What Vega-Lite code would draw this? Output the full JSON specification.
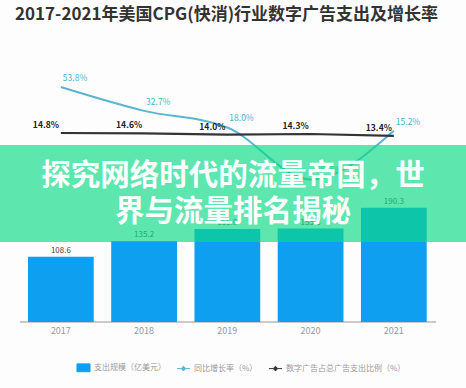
{
  "$schema": "https://vega.github.io/schema/vega-lite/v6.json",
  "width": 466,
  "height": 282,
  "autosize": {"type": "none"},
  "padding": {"left": 0, "right": 0, "top": 40, "bottom": 66},
  "background": "#fdfdfe",
  "config": {"view": {"stroke": null}, "font": "Noto Sans CJK SC"},
  "title": {
    "text": "2017-2021年美国CPG(快消)行业数字广告支出及增长率",
    "anchor": "start",
    "frame": "group",
    "dx": 15,
    "offset": 16,
    "fontSize": 17,
    "fontWeight": "bold",
    "color": "#333333",
    "font": "Noto Sans CJK SC"
  },
  "datasets": {
    "main": [
      {"year": "2017", "spend": 108.6, "growth": 53.8, "share": 14.8, "gLabel": "53.8%", "sLabel": "14.8%"},
      {"year": "2018", "spend": 135.2, "growth": 32.7, "share": 14.6, "gLabel": "32.7%", "sLabel": "14.6%"},
      {"year": "2019", "spend": 155.0, "growth": 18.0, "share": 14.0, "gLabel": "18.0%", "sLabel": "14.0%"},
      {"year": "2020", "spend": 155.8, "growth": -28.0, "share": 14.3, "gLabel": "-28.0%", "sLabel": "14.3%"},
      {"year": "2021", "spend": 190.3, "growth": 15.2, "share": 13.4, "gLabel": "15.2%", "sLabel": "13.4%"}
    ],
    "banner": [
      {"b1": 133.3, "b2": 295, "mid": 243.3, "text": "探究网络时代的流量帝国，世\n界与流量排名揭秘"}
    ]
  },
  "layer": [
    {
      "data": {"name": "main"},
      "mark": {"type": "rule", "color": "#c8c8c8", "strokeWidth": 1},
      "encoding": {
        "x": {"datum": "2017", "type": "ordinal", "bandPosition": -0.12,
              "scale": {"domain": ["2017", "2018", "2019", "2020", "2021"], "paddingInner": 0.21, "paddingOuter": 0.404, "align": 0.416},
              "axis": {"title": null, "labelAngle": 0, "labelColor": "#999999", "labelFontSize": 9, "labelPadding": 4, "ticks": false, "domain": false, "grid": false}},
        "x2": {"datum": "2021", "bandPosition": 1.14},
        "y": {"datum": 0, "type": "quantitative", "scale": {"domain": [0, 470], "nice": false}, "axis": null}
      }
    },
    {
      "data": {"name": "main"},
      "mark": {"type": "bar", "color": "#0e9ff0"},
      "encoding": {
        "x": {"field": "year", "type": "ordinal"},
        "y": {"field": "spend", "type": "quantitative", "scale": {"domain": [0, 470], "nice": false}, "axis": null},
        "color": {
          "datum": "支出规模（亿美元）",
          "scale": {"domain": ["支出规模（亿美元）", "同比增长率（%）", "数字广告占总广告支出比例（%）"], "range": ["#0e9ff0", "#5ab4d2", "#333333"]},
          "legend": {
            "orient": "none",
            "legendX": 76,
            "legendY": 320,
            "direction": "horizontal",
            "title": null,
            "labelFontSize": 8,
            "labelColor": "#999999",
            "columnPadding": 8,
            "labelOffset": 3,
            "symbolSize": 170,
            "encode": {
              "symbols": {
                "update": {
                  "shape": {"signal": "datum.value === '支出规模（亿美元）' ? 'M-1,-0.6H1V0.6H-1Z' : 'M-1,0H-0.35M0.35,0H1M0,-0.35L0.35,0L0,0.35L-0.35,0Z'"},
                  "fill": {"signal": "datum.value === '支出规模（亿美元）' ? '#1aa0d8' : '#ffffff'"},
                  "stroke": {"signal": "datum.value === '支出规模（亿美元）' ? '#1aa0d8' : (datum.value === '同比增长率（%）' ? '#9a9a9a' : '#777777')"},
                  "strokeWidth": {"value": 1},
                  "opacity": {"value": 1}
                }
              }
            }
          }
        }
      }
    },
    {
      "data": {"name": "main"},
      "mark": {"type": "text", "dy": -6, "fontSize": 8, "color": "#444444"},
      "encoding": {
        "x": {"field": "year", "type": "ordinal"},
        "y": {"field": "spend", "type": "quantitative", "scale": {"domain": [0, 470], "nice": false}, "axis": null},
        "text": {"field": "spend", "type": "quantitative", "format": ".1f"}
      }
    },
    {
      "data": {"name": "main"},
      "mark": {"type": "line", "interpolate": "monotone", "strokeWidth": 2},
      "encoding": {
        "x": {"field": "year", "type": "ordinal"},
        "y": {"field": "growth", "type": "quantitative", "scale": {"domain": [-154.1, 95.4], "nice": false, "zero": false}, "axis": null},
        "color": {"datum": "同比增长率（%）"}
      }
    },
    {
      "data": {"name": "main"},
      "mark": {"type": "line", "strokeWidth": 2.2},
      "encoding": {
        "x": {"field": "year", "type": "ordinal"},
        "y": {"field": "share", "type": "quantitative", "scale": {"domain": [-79.7, 61.3], "nice": false, "zero": false}, "axis": null},
        "color": {"datum": "数字广告占总广告支出比例（%）"}
      }
    },
    {
      "data": {"name": "main"},
      "mark": {"type": "text", "align": "left", "baseline": "bottom", "dx": 2, "dy": -4, "fontSize": 8.5, "color": "#45b5cc"},
      "encoding": {
        "x": {"field": "year", "type": "ordinal"},
        "y": {"field": "growth", "type": "quantitative", "scale": {"domain": [-154.1, 95.4], "nice": false, "zero": false}, "axis": null},
        "text": {"field": "gLabel", "type": "nominal"}
      }
    },
    {
      "data": {"name": "main"},
      "mark": {"type": "text", "align": "right", "baseline": "bottom", "dx": -2, "dy": -3, "fontSize": 8.5, "fontWeight": "bold", "color": "#222222"},
      "encoding": {
        "x": {"field": "year", "type": "ordinal"},
        "y": {"field": "share", "type": "quantitative", "scale": {"domain": [-79.7, 61.3], "nice": false, "zero": false}, "axis": null},
        "text": {"field": "sLabel", "type": "nominal"}
      }
    },
    {
      "data": {"name": "banner"},
      "mark": {"type": "rect", "color": "#0dda86", "opacity": 0.67},
      "encoding": {
        "y": {"field": "b1", "type": "quantitative", "scale": {"domain": [0, 470], "nice": false}, "axis": null},
        "y2": {"field": "b2"}
      }
    },
    {
      "data": {"name": "banner"},
      "mark": {"type": "text", "lineBreak": "\n", "lineHeight": 36, "fontSize": 29.5, "fontWeight": "bold", "color": "#ffffff", "font": "Noto Sans CJK SC", "baseline": "middle", "align": "center"},
      "encoding": {
        "y": {"field": "mid", "type": "quantitative", "scale": {"domain": [0, 470], "nice": false}, "axis": null},
        "text": {"field": "text", "type": "nominal"}
      }
    }
  ],
  "resolve": {"scale": {"y": "independent"}}
}
